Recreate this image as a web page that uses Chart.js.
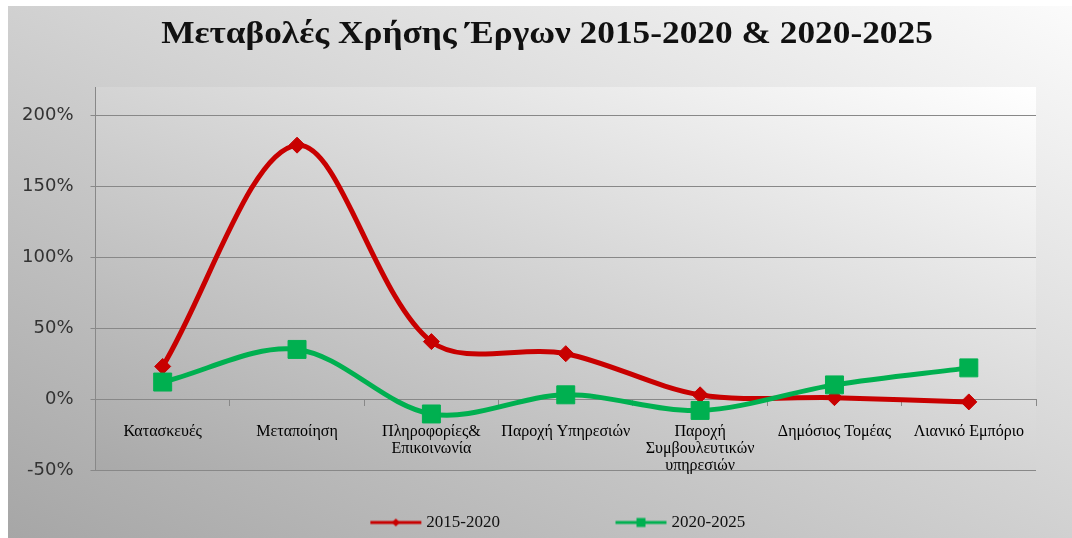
<!DOCTYPE html>
<html>
<head>
<meta charset="UTF-8">
<title>Μεταβολές Χρήσης Έργων</title>
<style>
    body {
        margin: 0;
        background: #fff;
    }
    #wrap {
        position: absolute;
        left: 8px;
        top: 6px;
        width: 1064px;
        height: 532px;
        background: linear-gradient(to top right, #a6a6a6, #fbfbfb);
    }
    #title {
        position: absolute;
        left: 0;
        top: 11.5px;
        width: 1094px;
        margin: 0;
        text-align: center;
        font-family: 'Liberation Serif', serif;
        font-weight: bold;
        font-size: 32px;
        line-height: 40px;
        color: #111;
        transform: scaleX(1.104);
        z-index: 1;
    }
</style>
</head>
<body>
<div id="wrap"><canvas id="chart"></canvas></div>
<h1 id="title">Μεταβολές Χρήσης Έργων 2015-2020 &amp; 2020-2025</h1>

<script src="https://cdn.jsdelivr.net/npm/chart.js"></script>
<script>
    const categories = [
        'Κατασκευές',
        'Μεταποίηση',
        ['Πληροφορίες&', 'Επικοινωνία'],
        'Παροχή Υπηρεσιών',
        ['Παροχή', 'Συμβουλευτικών', 'υπηρεσιών'],
        'Δημόσιος Τομέας',
        'Λιανικό Εμπόριο'
    ];
    const seriesNames = ['2015-2020', '2020-2025'];
    const values1520 = [23, 179, 40.5, 32, 3, 1, -2];
    const values2025 = [12, 35, -10.5, 3, -8, 10, 22];
    const yTicks = [-50, 0, 50, 100, 150, 200];

    const red = '#C80000';
    const green = '#00B050';

    // legend picture: short line with the marker in its middle,
    // drawn at the right end so it sits just before the text
    function legendIcon(color, square) {
        const c = document.createElement('canvas');
        c.width = 128;
        c.height = 16;
        const g = c.getContext('2d');
        g.strokeStyle = color;
        g.fillStyle = color;
        g.lineWidth = 3;
        g.beginPath();
        g.moveTo(76, 8);
        g.lineTo(127, 8);
        g.stroke();
        const cx = 101.5;
        if (square) {
            g.fillRect(cx - 4.5, 3.5, 9, 9);
        } else {
            g.beginPath();
            g.moveTo(cx, 4);
            g.lineTo(cx + 4, 8);
            g.lineTo(cx, 12);
            g.lineTo(cx - 4, 8);
            g.closePath();
            g.fill();
        }
        return c;
    }
    const icons = [legendIcon(red, false), legendIcon(green, true)];

    // gradient in the plot area, dark bottom-left to white top-right
    const plotBg = {
        id: 'plotBg',
        beforeDraw(chart) {
            const {ctx, chartArea: a} = chart;
            const w = a.right - a.left, h = a.bottom - a.top;
            const cx = (a.left + a.right) / 2, cy = (a.top + a.bottom) / 2;
            const len = Math.hypot(w, h);
            const half = w * h / len;
            const ux = h / len, uy = -w / len;
            const grad = ctx.createLinearGradient(cx - ux * half, cy - uy * half, cx + ux * half, cy + uy * half);
            grad.addColorStop(0, '#a9a9a9');
            grad.addColorStop(1, '#ffffff');
            ctx.save();
            ctx.fillStyle = grad;
            ctx.fillRect(a.left, a.top, w, h);
            ctx.restore();
        }
    };

    new Chart(document.getElementById('chart'), {
        type: 'line',
        data: {
            labels: categories,
            datasets: [{
                label: seriesNames[0],
                data: values1520,
                borderColor: red,
                backgroundColor: red,
                borderWidth: 5,
                tension: 0.33,
                pointStyle: 'rectRot',
                pointRadius: 8,
                pointHoverRadius: 8,
                pointBorderWidth: 1,
                order: 1
            }, {
                label: seriesNames[1],
                data: values2025,
                borderColor: green,
                backgroundColor: green,
                borderWidth: 5,
                tension: 0.33,
                pointStyle: 'rect',
                pointRadius: 12.7,
                pointHoverRadius: 12.7,
                pointBorderWidth: 1,
                order: 0
            }]
        },
        options: {
            responsive: true,
            maintainAspectRatio: false,
            animation: false,
            layout: {
                padding: {left: 0, right: 36, top: 81, bottom: -3}
            },
            scales: {
                x: {
                    position: {y: 0},
                    offset: true,
                    grid: {
                        offset: true,
                        drawOnChartArea: false,
                        drawTicks: true,
                        tickLength: 6,
                        color: '#888'
                    },
                    border: {color: '#888'},
                    ticks: {
                        padding: 18,
                        maxRotation: 0,
                        autoSkip: false,
                        color: '#000',
                        font: {family: 'Liberation Serif', size: 16, lineHeight: 1.08}
                    }
                },
                y: {
                    min: -50,
                    max: 220,
                    afterBuildTicks(scale) {
                        scale.ticks = yTicks.map(v => ({value: v}));
                    },
                    afterFit(scale) {
                        scale.width = 87.5;
                    },
                    grid: {color: '#888', tickLength: 5},
                    border: {color: '#888'},
                    ticks: {
                        padding: 17,
                        color: '#333',
                        font: {family: 'DejaVu Sans', size: 18},
                        callback: v => v + '%'
                    }
                }
            },
            plugins: {
                title: {display: false},
                legend: {
                    position: 'bottom',
                    labels: {
                        usePointStyle: true,
                        pointStyleWidth: 119,
                        padding: 44,
                        color: '#111',
                        font: {family: 'Liberation Serif', size: 17},
                        generateLabels(chart) {
                            return chart.data.datasets.map((ds, i) => ({
                                text: ds.label,
                                pointStyle: icons[i],
                                datasetIndex: i,
                                fillStyle: ds.borderColor,
                                strokeStyle: ds.borderColor,
                                fontColor: '#111',
                                lineWidth: 0,
                                hidden: false
                            }));
                        }
                    }
                },
                tooltip: {enabled: false}
            }
        },
        plugins: [plotBg]
    });
</script>
</body>
</html>
